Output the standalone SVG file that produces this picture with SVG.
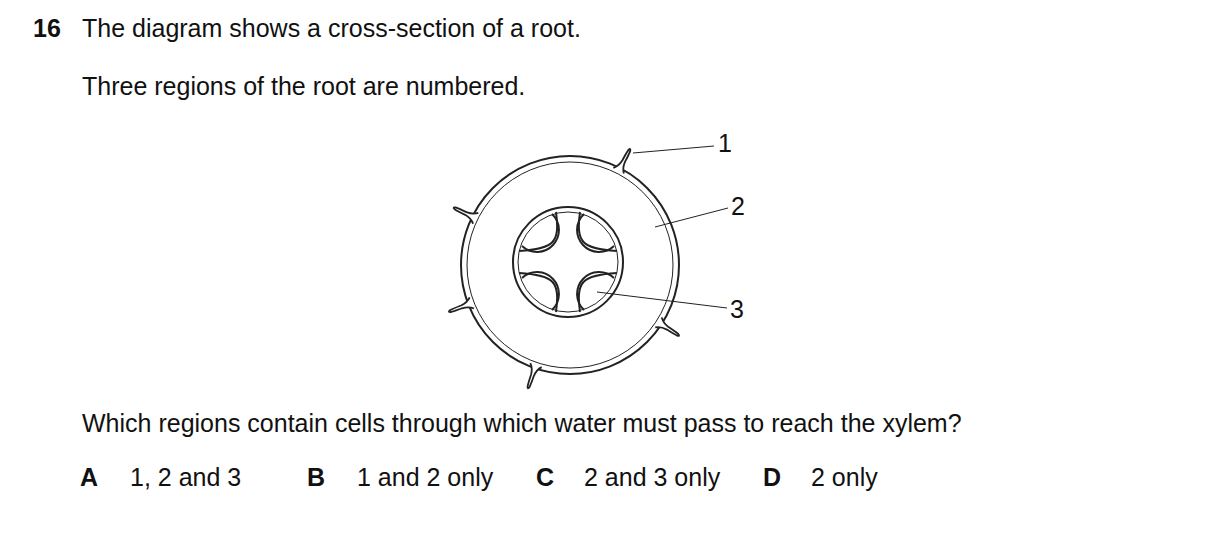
<svg xmlns="http://www.w3.org/2000/svg" width="1209" height="542" viewBox="0 0 1209 542">
<style>
text{font-family:"Liberation Sans",Arial,sans-serif;font-size:25px;fill:#111}
.b{font-weight:bold}
.th{fill:none;stroke:#222;stroke-width:2}
.tn{fill:none;stroke:#222;stroke-width:1}
.ld{stroke:#222;stroke-width:1}
.hair{fill:#fff;stroke:#222;stroke-width:1.8}
</style>
<defs>
<path id="h" d="M-6,3 Q-2,-1 -1.5,-8 Q-1.5,-16 -1,-20 Q0,-23 1,-20 Q1.5,-16 1.5,-8 Q2,-1 6,3"/>
</defs>
<rect width="1209" height="542" fill="#fff"/>
<text x="33" y="37" class="b">16</text>
<text x="82" y="37">The diagram shows a cross-section of a root.</text>
<text x="82" y="95">Three regions of the root are numbered.</text>
<g id="root">
<circle class="th" cx="570" cy="265" r="109"/>
<circle class="tn" cx="570" cy="265" r="103"/>
<g id="hairs" class="hair">
<use href="#h" transform="translate(620,168) rotate(28)"/>
<use href="#h" transform="translate(473,217) rotate(-64)"/>
<use href="#h" transform="translate(469,304) rotate(-111)"/>
<use href="#h" transform="translate(661,324) rotate(123)"/>
<use href="#h" transform="translate(535,368) rotate(-161)"/>
</g>
</g>
<g id="stele">
<circle class="th" cx="568" cy="262" r="55"/>
<circle class="tn" cx="568" cy="262" r="50"/>
<path class="th" d="M556,212 C560,242 555,249 519,251 M580,212 C576,242 581,249 617,251 M519,273 C555,275 560,282 556,312 M617,273 C581,275 576,282 580,312"/>
<path class="th" d="M552,214 A19,19 0 0 1 522,246 M584,214 A19,19 0 0 0 614,246 M552,310 A19,19 0 0 0 522,278 M584,310 A19,19 0 0 1 614,278"/>
</g>
<g id="connectors" class="ld">
<line x1="633" y1="153" x2="714" y2="146"/>
<line x1="655" y1="227" x2="728" y2="208"/>
<line x1="597" y1="292" x2="727" y2="308"/>
</g>
<text x="718" y="152">1</text>
<text x="731" y="215">2</text>
<text x="730" y="318">3</text>
<text x="82" y="432">Which regions contain cells through which water must pass to reach the xylem?</text>
<text x="80" y="486" class="b">A</text><text x="130" y="486">1, 2 and 3</text>
<text x="307" y="486" class="b">B</text><text x="357" y="486">1 and 2 only</text>
<text x="536" y="486" class="b">C</text><text x="584" y="486">2 and 3 only</text>
<text x="763" y="486" class="b">D</text><text x="811" y="486">2 only</text>
</svg>
